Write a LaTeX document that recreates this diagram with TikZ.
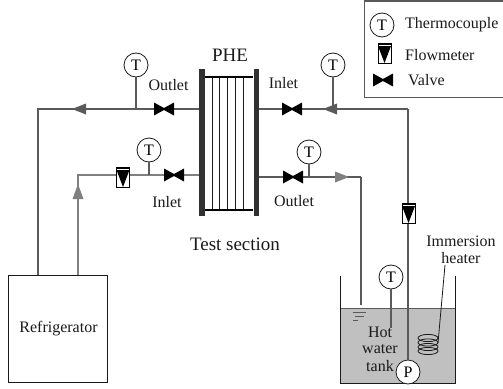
\documentclass[tikz,border=0pt]{standalone}
\usepackage{fontspec}
\setmainfont{Liberation Serif}
\usetikzlibrary{arrows.meta}
\definecolor{darkpipe}{HTML}{5A5A5A}
\definecolor{lightpipe}{HTML}{808080}
\definecolor{waterc}{HTML}{C0C0C0}
\definecolor{ink}{HTML}{1A1A1A}
\tikzset{
  lbl/.style={font=\fontsize{16}{16}\selectfont,text=ink,inner sep=0pt},
  biglbl/.style={font=\fontsize{19}{19}\selectfont,text=ink,inner sep=0pt},
  thermo/.style={circle,draw=ink,fill=white,line width=0.8pt,minimum size=24pt,inner sep=0pt,font=\fontsize{16}{16}\selectfont},
  pipeD/.style={draw=darkpipe,line width=1.7pt},
  pipeL/.style={draw=lightpipe,line width=1.5pt},
  stem/.style={draw=darkpipe,line width=1.1pt},
  barplate/.style={fill=ink!90!white,draw=none},
  valvesym/.pic={\fill[black] (-10,-6.5) -- (0,-1) -- (10,-6.5) -- (10,6.5) -- (0,1) -- (-10,6.5) -- cycle;},
  flowsym/.pic={\draw[black,fill=white,line width=0.9pt] (-6.5,-10) rectangle (6.5,10);
     \fill[black] (-6.5,-7) -- (6.5,-7) -- (0,10) -- cycle;
     \fill[black] (-6.5,-10) rectangle (6.5,-8.5);},
  headD/.style={fill=darkpipe,draw=none},
  headL/.style={fill=lightpipe,draw=none}
}
\begin{document}
\begin{tikzpicture}[x=1pt,y=-1pt]
\useasboundingbox (0,0) rectangle (503,388);
% tank
\fill[waterc] (340,308) rectangle (455,383);
\draw[darkpipe,line width=0.9pt] (340,308) -- (455,308);
\draw[ink,line width=1pt] (340,276) -- (340,383) -- (455,383) -- (455,276);
\draw[darkpipe,line width=0.9pt] (353,312) -- (366,312) (355,316) -- (364,316) (353,320) -- (358,320);
% coordinates
\coordinate (ref1) at (38,275);
\coordinate (ref2) at (78,275);
\coordinate (c1) at (38,109);
\coordinate (c2) at (78,175);
\coordinate (phel1) at (199,109);
\coordinate (phel2) at (199,175);
\coordinate (pher1) at (259,109);
\coordinate (pher2) at (259,177);
\coordinate (c3) at (408,109);
\coordinate (c4) at (361,177);
\coordinate (tankin) at (361,305);
\coordinate (j1) at (136,109);
\coordinate (j2) at (333,109);
\coordinate (j3) at (149,175);
\coordinate (j4) at (309,177);
% pipes
\draw[pipeD] (ref1) -- (c1) -- (phel1);
\draw[pipeD] (pher1) -- (c3);
\draw[pipeL] (ref2) -- (c2) -- (phel2);
\draw[pipeD,line width=1.3pt] (pher2) -- (c4);
\draw[darkpipe,line width=1.6pt] (c4) -- (tankin);
% refrigerator
\node[draw=ink,line width=0.9pt,fill=white,minimum width=99pt,minimum height=107pt,inner sep=0pt,anchor=north west] (fridge) at (8,275) {};
\node[lbl] (fridgelbl) at (58.5,328.5) {Refrigerator};
% pump and vertical
\node[thermo,minimum size=24pt] (pump) at (408,372) {P};
\draw[darkpipe,line width=1.6pt] (c3) -- (pump);
% arrowheads
\fill[headD] (72,109) -- (86,103.5) -- (86,114.5) -- cycle;
\fill[headD] (323,109) -- (337,103.5) -- (337,114.5) -- cycle;
\fill[headL] (349,177) -- (335,171.5) -- (335,182.5) -- cycle;
\fill[headL] (78,184) -- (72.5,199) -- (83.5,199) -- cycle;
% stems + thermocouples
\node[thermo] (t1) at (136,65) {T};
\node[thermo] (t2) at (333,65) {T};
\node[thermo] (t3) at (149,150) {T};
\node[thermo] (t4) at (309,152) {T};
\node[thermo] (t5) at (391,277) {T};
\coordinate (t5end) at (391,328);
\draw[stem] (t1) -- (j1);
\draw[stem] (t2) -- (j2);
\draw[stem] (t3) -- (j3);
\draw[stem] (t4) -- (j4);
\draw[stem] (t5) -- (t5end);
% valves
\path (164,109) pic {valvesym};
\path (292,109) pic {valvesym};
\path (174,175) pic {valvesym};
\path (293,177) pic {valvesym};
% flowmeters
\path (123,177) pic {flowsym};
\path (408.5,213) pic {flowsym};
% PHE
\foreach \x in {212,219.5,227,235,243}{\draw[ink,line width=0.8pt] (\x,77) -- (\x,210);}
\draw[black,line width=1.4pt] (204,77) -- (253,77) (204,210) -- (253,210);
\fill[barplate] (199,69) rectangle (204.5,216);
\fill[barplate] (253.5,69) rectangle (259,216);
% labels
\node[biglbl] (phe) at (230,55) {PHE};
\node[lbl] (l1) at (168.5,85) {Outlet};
\node[lbl] (l2) at (283.5,83) {Inlet};
\node[lbl] (l3) at (167,202) {Inlet};
\node[lbl] (l4) at (294,201) {Outlet};
\node[biglbl] (ts) at (235,244) {Test section};
% tank labels
\node[lbl] (h1) at (380,332) {Hot};
\node[lbl] (h2) at (380,349.5) {water};
\node[lbl] (h3) at (380,366) {tank};
\node[lbl] (im1) at (461,241) {Immersion};
\node[lbl] (im2) at (461,258) {heater};
% coil
\foreach \y in {338,342.5,347,351}{\draw[ink,line width=0.8pt] (428,\y) ellipse [x radius=10,y radius=3.6];}
\coordinate (heaterend) at (438,343);
\coordinate (heatertop) at (445,265);
\draw[ink,line width=0.8pt] (heatertop) -- (heaterend);
% legend
\node[draw=darkpipe,line width=1pt,fill=white,minimum width=138.5pt,minimum height=96pt,inner sep=0pt,anchor=north west] (legend) at (364.2,0.5) {};
\node[thermo] (lt) at (382,25) {T};
\node[lbl,anchor=west] (lt1) at (405,24.5) {Thermocouple};
\path (384.5,53) pic {flowsym};
\node[lbl,anchor=west] (lt2) at (405,55) {Flowmeter};
\path (383,80) pic {valvesym};
\node[lbl,anchor=west] (lt3) at (408,80) {Valve};
\end{tikzpicture}
\end{document}
